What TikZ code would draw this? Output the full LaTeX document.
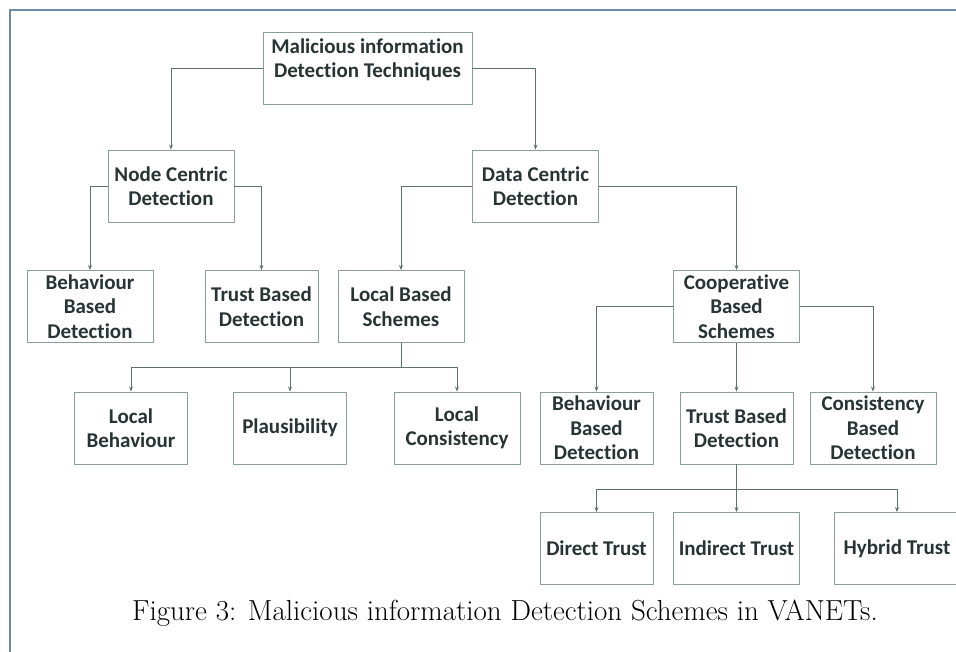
\documentclass[tikz,border=0pt]{standalone}
\usepackage{fontspec}
\newfontfamily\boxfont[Ligatures=NoCommon]{Carlito}
\usetikzlibrary{arrows.meta}
\definecolor{boxGray}{RGB}{140,156,156}
\definecolor{lineGray}{RGB}{96,112,112}
\definecolor{textGray}{RGB}{40,52,52}
\definecolor{frameBlue}{RGB}{108,136,168}

\begin{document}
\begin{tikzpicture}[x=1pt, y=-1pt, line join=round,
  lbl/.style={text=textGray, font=\boxfont\bfseries\fontsize{21}{24.5}\selectfont, align=center},
  box/.style={lbl, draw=boxGray, line width=0.9pt, inner sep=0pt, minimum height=72pt},
  wide/.style={box, minimum width=126pt},
  narrow/.style={box, minimum width=113pt},
  link/.style={lineGray, line width=0.9pt},
  conn/.style={link, -{Stealth[length=5pt, width=4pt]}}]
\useasboundingbox (0,0) rectangle (956,652);
\draw[frameBlue, line width=1.6pt] (10,652) -- (10,10) -- (956,10);
\node[box, minimum width=209pt, label={[lbl, yshift=8pt]center:{Malicious information\\Detection Techniques}}] (root) at (367.5,68) {};
\node[wide] (ncd) at (171,186) {Node Centric\\Detection};
\node[wide] (dcd) at (535.5,186) {Data Centric\\Detection};
\node[wide] (bbd) at (90,306.5) {Behaviour\\Based\\Detection};
\node[narrow] (tbd) at (261.5,306.5) {Trust Based\\Detection};
\node[wide] (lbs) at (401,306.5) {Local Based\\Schemes};
\node[wide] (cbs) at (736.5,306.5) {Cooperative\\Based\\Schemes};
\node[narrow] (lbh) at (131,428) {Local\\Behaviour};
\node[narrow] (pls) at (290,428) {Plausibility};
\node[wide] (lcs) at (457,428) {Local\\Consistency};
\node[narrow] (cbb) at (596.5,428) {Behaviour\\Based\\Detection};
\node[narrow] (ctb) at (736.5,428) {Trust Based\\Detection};
\node[wide] (ccb) at (873,428) {Consistency\\Based\\Detection};
\node[narrow] (dtr) at (596.5,548.5) {Direct Trust};
\node[wide] (itr) at (736.5,548.5) {Indirect Trust};
\node[wide] (htr) at (897,548.5) {Hybrid Trust};
\node[font=\fontsize{29}{34}\selectfont] (caption) at (505,613) {Figure 3: Malicious information Detection Schemes in VANETs.};
\draw[conn] (root.west) -| (ncd.north);
\draw[conn] (root.east) -| (dcd.north);
\draw[conn] (ncd.west) -| (bbd.north);
\draw[conn] (ncd.east) -| (tbd.north);
\draw[conn] (dcd.west) -| (lbs.north);
\draw[conn] (dcd.east) -| (cbs.north);
\draw[link] (lbs.south) -- ++(0,24) coordinate (lbsBus);
\draw[conn] (lbsBus) -| (lbh.north);
\draw[conn] (lbsBus) -| (pls.north);
\draw[conn] (lbsBus) -| (lcs.north);
\draw[conn] (cbs.west) -| (cbb.north);
\draw[conn] (cbs.south) -- (ctb.north);
\draw[conn] (cbs.east) -| (ccb.north);
\draw[link] (ctb.south) -- ++(0,25) coordinate (ctbBus);
\draw[conn] (ctbBus) -| (dtr.north);
\draw[conn] (ctbBus) -- (itr.north);
\draw[conn] (ctbBus) -| (htr.north);
\end{tikzpicture}
\end{document}
